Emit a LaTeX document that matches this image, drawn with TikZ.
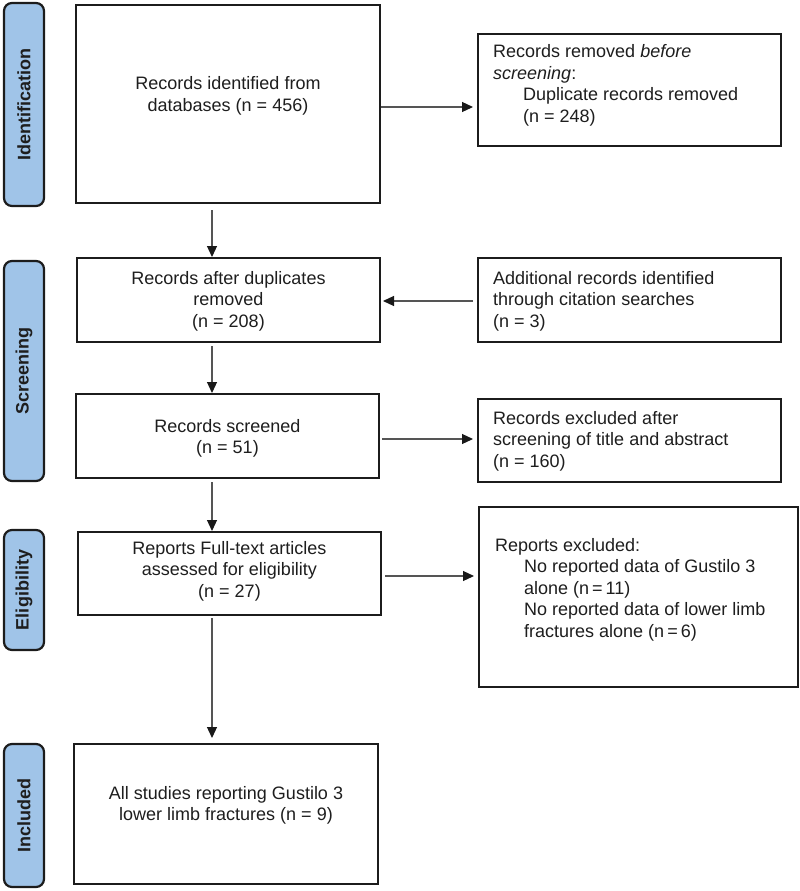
\documentclass[tikz,border=0pt]{standalone}
\usepackage{fontspec}
\setmainfont{Liberation Sans}
\usetikzlibrary{arrows.meta}
\definecolor{txt}{RGB}{30,30,30}
\definecolor{lab}{RGB}{160,196,232}
\definecolor{edge}{RGB}{28,28,28}
\definecolor{conn}{RGB}{85,85,85}
\begin{document}
\begin{tikzpicture}[x=1pt,y=-1pt,
  box/.style={draw=edge, line width=2pt, fill=white, inner sep=0pt},
  ctext/.style={text=txt, font=\fontsize{18}{21.5}\selectfont, align=center, inner sep=0pt},
  ltext/.style={text=txt, font=\fontsize{18}{21.5}\selectfont, align=left, inner sep=0pt, anchor=west},
  side/.style={draw=edge, line width=2.2pt, fill=lab, rounded corners=8pt, rotate=90,
    minimum height=40pt, inner sep=0pt, text=txt, font=\fontsize{18}{21.5}\selectfont\bfseries},
  arr/.style={draw=conn, line width=1.2pt, -{Triangle[length=11pt,width=10pt,color=black!90]}}
]
\useasboundingbox (0,0) rectangle (800,891);

% phase labels
\node[side, minimum width=203pt] (sid) at (24,104.5) {Identification};
\node[side, minimum width=220pt] (sscr) at (24,371) {Screening};
\node[side, minimum width=120pt] (selig) at (24,590) {Eligibility};
\node[side, minimum width=143pt] (sinc) at (24,815.5) {Included};

% main column boxes
\node[box, minimum width=304pt, minimum height=198pt] (b1) at (228,104) {};
\node[ctext] (t1) at (228,96) {Records identified from\\databases (n = 456)};

\node[box, minimum width=303pt, minimum height=84pt] (b2) at (228.5,300) {};
\node[ctext] (t2) at (228.5,301) {Records after duplicates\\removed\\(n = 208)};

\node[box, minimum width=303pt, minimum height=84pt] (b3) at (227.5,436) {};
\node[ctext] (t3) at (227.5,438.5) {Records screened\\(n = 51)};

\node[box, minimum width=303pt, minimum height=83pt] (b4) at (229.5,573.5) {};
\node[ctext] (t4) at (229.5,571) {Reports Full-text articles\\assessed for eligibility\\(n = 27)};

\node[box, minimum width=304pt, minimum height=140pt] (b5) at (226,814) {};
\node[ctext] (t5) at (226,805.5) {All studies reporting Gustilo 3\\lower limb fractures (n = 9)};

% right column boxes
\node[box, minimum width=303pt, minimum height=112pt] (r1) at (629.5,90) {};
\node[ltext] (u1) at (493,85.5) {Records removed \textit{before}\\\textit{screening}:\\\hspace*{30pt}Duplicate records removed\\\hspace*{30pt}(n = 248)};

\node[box, minimum width=303pt, minimum height=84pt] (r2) at (629.5,300) {};
\node[ltext] (u2) at (493,301) {Additional records identified\\through citation searches\\(n = 3)};

\node[box, minimum width=303pt, minimum height=83pt] (r3) at (629.5,440.5) {};
\node[ltext] (u3) at (493,441) {Records excluded after\\screening of title and abstract\\(n = 160)};

\node[box, minimum width=319pt, minimum height=180pt] (r4) at (638.5,597) {};
\node[ltext] (u4) at (495,589.5) {Reports excluded:\\\hspace*{29pt}No reported data of Gustilo 3\\\hspace*{29pt}alone (n\,=\,11)\\\hspace*{29pt}No reported data of lower limb\\\hspace*{29pt}fractures alone (n\,=\,6)};

% helper coordinates
\coordinate (col) at (212,0);
\coordinate (row1) at (0,107);
\coordinate (row2) at (0,301);
\coordinate (row3) at (0,439);
\coordinate (row4) at (0,576);

% vertical connectors
\draw[arr, shorten <=6pt] (b1.south -| col) -- (b2.north -| col);
\draw[arr, shorten <=3pt] (b2.south -| col) -- (b3.north -| col);
\draw[arr, shorten <=3pt] (b3.south -| col) -- (b4.north -| col);
\draw[arr, shorten <=2pt, shorten >=5pt] (b4.south -| col) -- (b5.north -| col);

% horizontal connectors
\draw[arr, shorten >=4pt] (b1.east |- row1) -- (r1.west |- row1);
\draw[arr, shorten <=4pt, shorten >=2pt] (r2.west |- row2) -- (b2.east |- row2);
\draw[arr, shorten <=2pt, shorten >=4pt] (b3.east |- row3) -- (r3.west |- row3);
\draw[arr, shorten <=3pt, shorten >=4pt] (b4.east |- row4) -- (r4.west |- row4);
\end{tikzpicture}
\end{document}
